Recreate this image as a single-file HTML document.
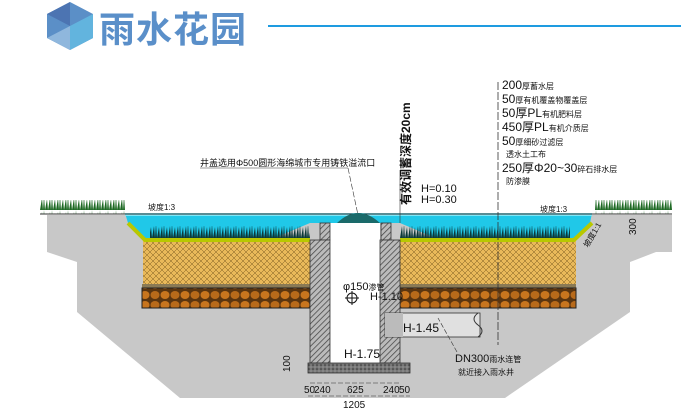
<!DOCTYPE html>
<html><head><meta charset="utf-8"><style>
html,body{margin:0;padding:0;background:#fff;width:681px;height:410px;overflow:hidden}
svg{display:block;font-family:"Liberation Sans","Noto Sans CJK SC",sans-serif}
</style></head><body>
<svg width="681" height="410" viewBox="0 0 681 410" xmlns="http://www.w3.org/2000/svg">
<defs>
<pattern id="hatch" width="4" height="4" patternUnits="userSpaceOnUse" patternTransform="rotate(45)"><rect width="4" height="4" fill="#bbb"/><line x1="0" y1="0" x2="0" y2="4" stroke="#444" stroke-width="1.5"/></pattern>
<pattern id="soil" width="6" height="6" patternUnits="userSpaceOnUse"><rect width="6" height="6" fill="#e9b95a"/><path d="M0 0L6 6M6 0L0 6" stroke="#7a5a20" stroke-width="0.5"/></pattern>
<pattern id="cob" width="20" height="10" patternUnits="userSpaceOnUse"><rect width="20" height="10" fill="#5a3510"/><ellipse cx="5" cy="5" rx="4.5" ry="4" fill="#c8751e"/><ellipse cx="15" cy="5" rx="4.5" ry="4" fill="#b86a1a"/></pattern>
<pattern id="grass" width="8" height="14" patternUnits="userSpaceOnUse"><path d="M0 14L2 2L3 14L4 0L5 14L7 3L8 14Z" fill="#1f6a25"/></pattern>
<pattern id="grass2" width="8" height="14" patternUnits="userSpaceOnUse"><path d="M0 14L2 2L3 14L4 0L5 14L7 3L8 14Z" fill="#0d3a3a"/></pattern>
<pattern id="slab" width="4" height="4" patternUnits="userSpaceOnUse"><rect width="4" height="4" fill="#777"/><circle cx="1" cy="1" r="0.8" fill="#333"/><circle cx="3" cy="3" r="0.6" fill="#aaa"/></pattern>
</defs>
<!-- header -->
<polygon points="70,2 93,14 93,38 70,50 47,38 47,14" fill="#5b8fc7"/>
<polygon points="70,26 93,14 93,38 70,50" fill="#62b4de"/>
<polygon points="70,26 47,38 70,50" fill="#8fb7dd"/>
<polygon points="70,2 70,26 47,14" fill="#4c74b2"/>
<text x="99" y="42" font-size="36" font-weight="bold" fill="#5a8fc9" letter-spacing="1">雨水花园</text>
<line x1="268" y1="26" x2="681" y2="26" stroke="#1e9be0" stroke-width="2"/>
<!-- ground -->
<polygon points="47,215 672,215 672,252 656,252 630,262 630,312 505,398 180,398 77,312 77,262 47,252" fill="#c8c8c8"/>
<!-- water -->
<polygon points="125,213 592,213 590,223 574,240 440,240 400,223 310,223 270,240 145,240 128,223" fill="#20c8e8"/>
<rect x="125" y="213" width="467" height="3" fill="#7fe6f6"/>
<!-- grass in basin -->
<rect x="150" y="226" width="160" height="14" fill="url(#grass2)"/>
<rect x="400" y="226" width="170" height="14" fill="url(#grass2)"/>
<!-- soil -->
<polygon points="128,223 145,240 310,240 310,287 143,287 143,240" fill="url(#soil)"/>
<polygon points="400,240 574,240 592,223 576,240 576,287 400,287" fill="url(#soil)"/>
<polyline points="128,223 145,240 310,240" stroke="#b8c800" stroke-width="4" fill="none"/>
<polyline points="400,240 574,240 592,223" stroke="#b8c800" stroke-width="4" fill="none"/>
<rect x="142" y="284" width="168" height="4" fill="#8a7a55"/>
<rect x="400" y="284" width="176" height="4" fill="#8a7a55"/>
<rect x="142" y="288" width="168" height="20" fill="url(#cob)" stroke="#222" stroke-width="1"/>
<rect x="400" y="288" width="176" height="20" fill="url(#cob)" stroke="#222" stroke-width="1"/>
<!-- surface grass -->
<rect x="40" y="200" width="85" height="14" fill="url(#grass)"/>
<rect x="595" y="200" width="77" height="14" fill="url(#grass)"/>
<line x1="40" y1="214" x2="672" y2="214" stroke="#333" stroke-width="1"/>
<!-- well -->
<rect x="330" y="223" width="50" height="140" fill="#fff"/>
<rect x="320" y="223" width="10" height="17" fill="url(#hatch)" stroke="#333" stroke-width="0.8"/>
<rect x="381" y="223" width="10" height="17" fill="url(#hatch)" stroke="#333" stroke-width="0.8"/>
<rect x="310" y="240" width="20" height="123" fill="url(#hatch)" stroke="#333" stroke-width="0.8"/>
<rect x="380" y="240" width="20" height="123" fill="url(#hatch)" stroke="#333" stroke-width="0.8"/>
<rect x="308" y="363" width="102" height="10" fill="url(#slab)" stroke="#333" stroke-width="0.8"/>
<path d="M337 223 Q358 203 380 223Z" fill="#1a6a6a"/>
<!-- pipe -->
<rect x="385" y="313" width="95" height="24" fill="#e0e0e0" stroke="#333" stroke-width="0.8"/>
<rect x="385" y="313" width="18" height="24" fill="#bbb"/>
<path d="M478 313 Q470 319 478 325 Q486 331 478 337" fill="none" stroke="#333"/>
<!-- leader lines -->
<line x1="498" y1="82" x2="498" y2="345" stroke="#333" stroke-width="0.8" stroke-dasharray="8,2"/>
<line x1="200" y1="168" x2="348" y2="168" stroke="#333" stroke-width="0.6"/>
<line x1="348" y1="168" x2="358" y2="215" stroke="#333" stroke-width="0.6" stroke-dasharray="6,2"/>
<line x1="400" y1="170" x2="400" y2="223" stroke="#333" stroke-width="0.6"/>
<g font-family="'Liberation Sans Narrow','Liberation Sans','Noto Sans CJK SC',sans-serif" fill="#111">
<text x="502" y="89" font-size="12">200<tspan font-size="8">厚蓄水层</tspan></text>
<text x="502" y="103" font-size="12">50<tspan font-size="8">厚有机覆盖物覆盖层</tspan></text>
<text x="502" y="117" font-size="12">50厚PL<tspan font-size="8">有机肥料层</tspan></text>
<text x="502" y="131" font-size="12">450厚PL<tspan font-size="8">有机介质层</tspan></text>
<text x="502" y="145" font-size="12">50<tspan font-size="8">厚细砂过滤层</tspan></text>
<text x="506" y="157" font-size="8">透水土工布</text>
<text x="502" y="172" font-size="12">250厚Φ20~30<tspan font-size="8">碎石排水层</tspan></text>
<text x="506" y="184" font-size="8">防渗膜</text>
<text x="200" y="166" font-size="9">井盖选用Φ500圆形海绵城市专用铸铁溢流口</text>
<text transform="translate(410,205) rotate(-90)" font-size="12" font-weight="bold">有效调蓄深度20cm</text>
<text x="421" y="192" font-size="11">H=0.10</text>
<text x="421" y="203" font-size="11">H=0.30</text>
<text x="148" y="210" font-size="8">坡度1:3</text>
<text x="540" y="212" font-size="8">坡度1:3</text>
<text transform="translate(588,248) rotate(-60)" font-size="8">坡度1:1</text>
<text transform="translate(636,235) rotate(-90)" font-size="10">300</text>
<text x="343" y="290" font-size="11">φ150<tspan font-size="8">渗管</tspan></text>
<circle cx="352" cy="298" r="5" fill="none" stroke="#111"/>
<line x1="345" y1="298" x2="359" y2="298" stroke="#111"/><line x1="352" y1="291" x2="352" y2="305" stroke="#111"/>
<text x="370" y="300" font-size="11">H-1.10</text>
<text x="403" y="332" font-size="12">H-1.45</text>
<text x="344" y="358" font-size="12">H-1.75</text>
<text x="455" y="362" font-size="11">DN300<tspan font-size="8">雨水连管</tspan></text>
<text x="458" y="375" font-size="8">就近接入雨水井</text>
<text transform="translate(290,372) rotate(-90)" font-size="10">100</text>
<text x="304" y="393" font-size="10">50</text><text x="314" y="393" font-size="10">240</text>
<text x="347" y="393" font-size="10">625</text>
<text x="383" y="393" font-size="10">240</text><text x="399" y="393" font-size="10">50</text>
<text x="343" y="408" font-size="10">1205</text>
</g>
<line x1="308" y1="396" x2="410" y2="396" stroke="#333" stroke-width="0.5" stroke-dasharray="5,2"/>
<line x1="310" y1="383" x2="400" y2="383" stroke="#333" stroke-width="0.5" stroke-dasharray="5,2"/>
<line x1="457" y1="352" x2="438" y2="318" stroke="#333" stroke-width="0.6" stroke-dasharray="5,2"/>
</svg>
</body></html>
